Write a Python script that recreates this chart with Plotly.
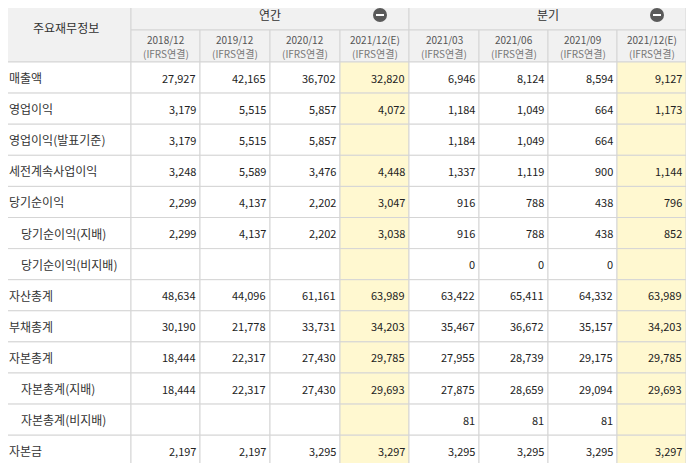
import plotly.graph_objects as go

labels = ["매출액","영업이익","영업이익(발표기준)","세전계속사업이익","당기순이익","당기순이익(지배)","당기순이익(비지배)",
          "자산총계","부채총계","자본총계","자본총계(지배)","자본총계(비지배)","자본금"]
indent = [0,0,0,0,0,1,1,0,0,0,1,1,0]
periods = ["2018/12","2019/12","2020/12","2021/12(E)","2021/03","2021/06","2021/09","2021/12(E)"]
estimate = [False,False,False,True,False,False,False,True]
values = [
 ["27,927","42,165","36,702","32,820","6,946","8,124","8,594","9,127"],
 ["3,179","5,515","5,857","4,072","1,184","1,049","664","1,173"],
 ["3,179","5,515","5,857","","1,184","1,049","664",""],
 ["3,248","5,589","3,476","4,448","1,337","1,119","900","1,144"],
 ["2,299","4,137","2,202","3,047","916","788","438","796"],
 ["2,299","4,137","2,202","3,038","916","788","438","852"],
 ["","","","","0","0","0",""],
 ["48,634","44,096","61,161","63,989","63,422","65,411","64,332","63,989"],
 ["30,190","21,778","33,731","34,203","35,467","36,672","35,157","34,203"],
 ["18,444","22,317","27,430","29,785","27,955","28,739","29,175","29,785"],
 ["18,444","22,317","27,430","29,693","27,875","28,659","29,094","29,693"],
 ["","","","","81","81","81",""],
 ["2,197","2,197","3,295","3,297","3,295","3,295","3,295","3,297"],
]
groups = ["연간","분기"]

W, H = 694, 463
OFF = 8  # page margin compensation
x_edges = [0,131,200,270,340,409,479,548,617,686]
h1, h2, rh = 30, 62, 31.1
grid = "#d5d5d5"; hbg = "#f1f1f1"; ybg = "#fff8d0"; tc = "#333333"
font = "Noto Sans CJK KR"
shapes, ann = [], []
def rect(x0,y0,x1,y1,fill):
    shapes.append(dict(type="rect",x0=x0,y0=y0,x1=x1,y1=y1,fillcolor=fill,line=dict(color=grid,width=1),layer="below"))
def text(x,y,t,anchor="center",size=12,color=tc):
    ann.append(dict(x=x,y=y,text=t,showarrow=False,xanchor=anchor,yanchor="middle",borderpad=0,
                    font=dict(family=font,size=size,color=color)))

rect(0,0,x_edges[1],h2,hbg); text(x_edges[1]/2,h2/2-4,"주요재무정보")
for g in range(2):
    xa, xb = x_edges[1+4*g], x_edges[5+4*g]
    rect(xa,0,xb,h1,hbg); text((xa+xb)/2,h1/2-1,groups[g])
    cx = xb-29
    shapes.append(dict(type="circle",x0=cx-7,y0=h1/2-7,x1=cx+7,y1=h1/2+7,fillcolor="#5a5a5a",line=dict(width=0)))
    shapes.append(dict(type="line",x0=cx-4,y0=h1/2,x1=cx+4,y1=h1/2,line=dict(color="white",width=2)))
for j,p in enumerate(periods):
    xa, xb = x_edges[j+1], x_edges[j+2]
    rect(xa,h1,xb,h2,hbg)
    text((xa+xb)/2,h1+9,p,size=10,color="#555")
    text((xa+xb)/2,h1+23,"(IFRS연결)",size=10,color="#777")
for i,lab in enumerate(labels):
    y0 = h2+i*rh; y1 = y0+rh; yc=(y0+y1)/2
    rect(0,y0,x_edges[1],y1,"white")
    text(8+12*indent[i],yc,lab,anchor="left",size=12)
    for j in range(8):
        xa, xb = x_edges[j+1], x_edges[j+2]
        rect(xa,y0,xb,y1,ybg if estimate[j] else "white")
        if values[i][j]:
            text(xb-3,yc,values[i][j],anchor="right",size=11,color="#222")

fig = go.Figure()
fig.update_layout(width=W,height=H,margin=dict(l=0,r=0,t=0,b=0),plot_bgcolor="white",paper_bgcolor="white",
    xaxis=dict(range=[OFF,W+OFF],visible=False,fixedrange=True),
    yaxis=dict(range=[H+OFF,OFF],visible=False,fixedrange=True),
    shapes=shapes,annotations=ann,showlegend=False)
fig.write_html("out.html")
